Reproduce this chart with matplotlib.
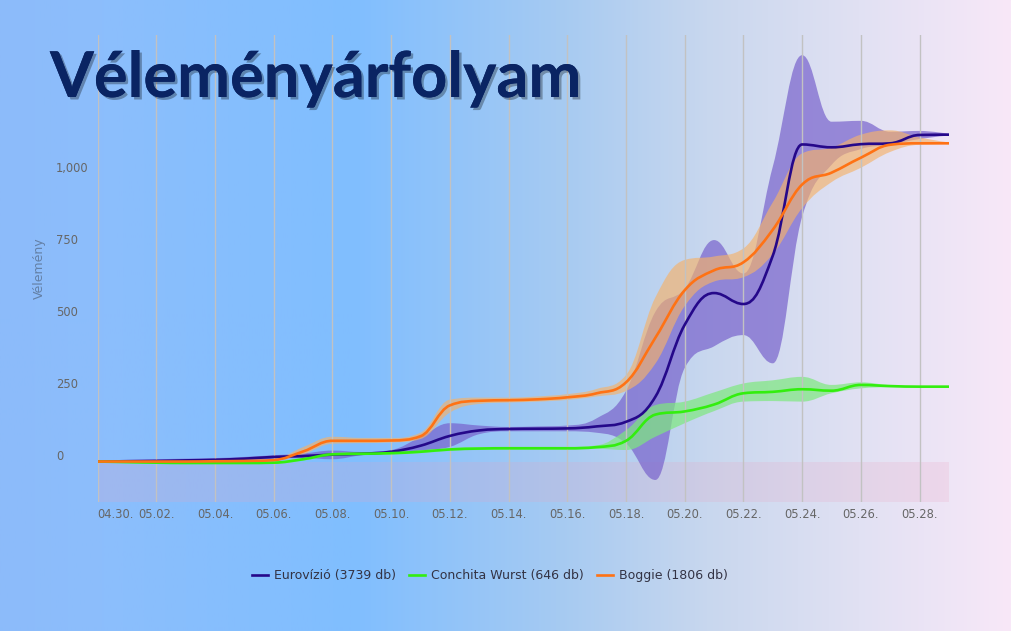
import numpy as np
import matplotlib
matplotlib.use('Agg')
import matplotlib.pyplot as plt
from matplotlib.path import Path
from matplotlib.patches import PathPatch
from matplotlib.lines import Line2D
from matplotlib.transforms import ScaledTranslation
import matplotlib.patheffects as pe

# dates 04.30. - 05.29.
dates = ['04.30.'] + ['05.%02d.' % d for d in range(1, 30)]

euro = [0, 1, 2, 4, 6, 10, 16, 19, 24, 27, 34, 55, 89, 108, 113,
        114, 115, 122, 138, 225, 475, 585, 547, 715, 1101, 1091, 1102, 1105, 1134, 1135]
euro_hi = [3, 6, 8, 10, 12, 16, 22, 28, 38, 33, 40, 85, 133, 125, 120,
           122, 125, 150, 245, 520, 600, 769, 653, 1024, 1411, 1180, 1183, 1145, 1148, 1138]
euro_lo = [-3, -4, -4, -2, 0, 4, 10, 12, 8, 22, 28, 38, 51, 95, 105,
           105, 105, 100, 63, -64, 325, 400, 439, 341, 850, 1030, 1085, 1100, 1120, 1132]

conchita = [0, -2, -4, -5, -5, -5, -4, 8, 25, 27, 29, 34, 42, 45, 46,
            46, 46, 50, 72, 163, 174, 198, 237, 242, 251, 246, 266, 262, 260, 260]
conchita_hi = [3, 2, 0, -1, -1, -1, 0, 13, 30, 32, 34, 39, 47, 50, 51,
               51, 51, 56, 109, 196, 208, 240, 271, 282, 294, 266, 275, 265, 262, 261]
conchita_lo = [-3, -6, -8, -9, -9, -9, -8, 3, 20, 22, 24, 29, 37, 40, 41,
               41, 41, 44, 40, 86, 133, 175, 208, 210, 208, 237, 254, 258, 258, 259]

boggie = [0, 0, 0, 0, 1, 2, 5, 35, 72, 72, 73, 88, 195, 211, 213,
          216, 223, 237, 275, 430, 595, 664, 692, 805, 962, 1003, 1055, 1100, 1105, 1105]
boggie_hi = [3, 3, 3, 3, 4, 5, 9, 50, 86, 82, 82, 100, 215, 222, 222,
             226, 234, 252, 300, 570, 700, 712, 740, 900, 1070, 1090, 1135, 1150, 1125, 1108]
boggie_lo = [-3, -3, -3, -3, -2, -1, 2, 25, 62, 64, 66, 78, 170, 200, 205,
             208, 214, 226, 245, 340, 540, 625, 640, 720, 880, 970, 1020, 1075, 1100, 1102]

labels = ['Eurovízió (3739 db)', 'Conchita Wurst (646 db)', 'Boggie (1806 db)']


def spline_path(x, y, smoothing=1.5):
    # highcharts-like spline: cubic bezier segments through every point
    n = len(x)
    lc = [(x[i], y[i]) for i in range(n)]
    rc = [(x[i], y[i]) for i in range(n)]
    for i in range(1, n - 1):
        px, py = x[i], y[i]
        lx, ly = x[i - 1], y[i - 1]
        nx, ny = x[i + 1], y[i + 1]
        d = smoothing + 1
        lcx, lcy = (smoothing * px + lx) / d, (smoothing * py + ly) / d
        rcx, rcy = (smoothing * px + nx) / d, (smoothing * py + ny) / d
        corr = ((rcy - lcy) * (rcx - px)) / (rcx - lcx) + py - rcy
        lcy += corr
        rcy += corr
        if lcy > ly and lcy > py:
            lcy = max(ly, py)
            rcy = 2 * py - lcy
        elif lcy < ly and lcy < py:
            lcy = min(ly, py)
            rcy = 2 * py - lcy
        if rcy > ny and rcy > py:
            rcy = max(ny, py)
            lcy = 2 * py - rcy
        elif rcy < ny and rcy < py:
            rcy = min(ny, py)
            lcy = 2 * py - rcy
        lc[i] = (lcx, lcy)
        rc[i] = (rcx, rcy)
    verts = [(x[0], y[0])]
    codes = [Path.MOVETO]
    for i in range(1, n):
        verts += [rc[i - 1], lc[i], (x[i], y[i])]
        codes += [Path.CURVE4] * 3
    return verts, codes


def band_path(x, hi, lo):
    uv, uc = spline_path(x, hi)
    lv, _ = spline_path(x, lo)
    verts = uv + lv[::-1] + [uv[0]]
    codes = uc + [Path.LINETO] + [Path.CURVE4] * (len(lv) - 1) + [Path.CLOSEPOLY]
    return Path(verts, codes)


fig = plt.figure(figsize=(10.11, 6.31), dpi=100)

# background gradient
bg = fig.add_axes([0, 0, 1, 1], zorder=-10)
stops = [0, 0.1, 0.35, 0.55, 0.7, 0.85, 1.0]
cols = np.array([(140, 187, 250), (140, 190, 252), (128, 190, 255), (165, 202, 242),
                 (200, 215, 238), (225, 225, 243), (248, 232, 248)]) / 255
xx = np.linspace(0, 1, 512)
grad = np.stack([np.interp(xx, stops, cols[:, k]) for k in range(3)], axis=-1)[None, :, :]
bg.imshow(grad, aspect='auto', extent=[0, 1, 0, 1])
bg.axis('off')

ax = fig.add_axes([0.0966, 0.2044, 0.8420, 0.7401])
ax.patch.set_alpha(0)
x = list(range(len(dates)))

ax.axhspan(-1000, 0, color=(0.92, 0.63, 0.75), alpha=0.2, lw=0, zorder=0)

series = [
    (euro, euro_hi, euro_lo, '#25088a', '#7862cc', 0.7),
    (conchita, conchita_hi, conchita_lo, '#33ee0e', '#7ee87e', 0.7),
    (boggie, boggie_hi, boggie_lo, '#ff7214', '#f5b26a', 0.65),
]
for y, hi, lo, lc_, fc, a in series:
    ax.add_patch(PathPatch(band_path(x, hi, lo), facecolor=fc, alpha=a, lw=0, zorder=1))
for y, hi, lo, lc_, fc, a in series:
    v, c = spline_path(x, y)
    ax.add_patch(PathPatch(Path(v, c), facecolor='none', edgecolor=lc_, lw=1.9,
                           zorder=3, capstyle='round', joinstyle='round'))

ax.set_xlim(0, 29)
ax.set_ylim(-140.6, 1481)
for s in ax.spines.values():
    s.set_visible(False)

ax.set_xticks(x[:29:2])
ax.set_xticklabels(dates[:29:2], fontsize=8.3, color='#666666')
ax.get_xticklabels()[0].set_ha('left')
ax.tick_params(axis='x', length=0, pad=4.5)
ax.grid(axis='x', color='#c2c2c2', lw=1)
ax.grid(axis='y', visible=False)

ax.set_yticks([0, 250, 500, 750, 1000])
ax.set_yticklabels(['0', '250', '500', '750', '1,000'], fontsize=8.3, color='#666666')
ax.tick_params(axis='y', length=0, pad=30)
off = ScaledTranslation(0, 0.065, fig.dpi_scale_trans)
for t in ax.get_yticklabels():
    t.set_ha('left')
    t.set_transform(t.get_transform() + off)

fig.text(39 / 1011, 1 - 268 / 631, 'Vélemény', rotation=90, ha='center', va='center',
         fontsize=9, color='#6480a6')

fig.text(50 / 1011, 1 - 97 / 631, 'Véleményárfolyam', fontsize=45.5, fontweight='bold',
         family='Lato', color='#0a2463', va='baseline',
         path_effects=[pe.withSimplePatchShadow(offset=(1.8, -1.8), shadow_rgbFace='black', alpha=0.3),
                       pe.Normal()])

handles = [Line2D([], [], color=s[3], lw=1.9) for s in series]
fig.legend(handles, labels, loc='center', bbox_to_anchor=(490 / 1011, 1 - 576 / 631), ncol=3,
           frameon=False, fontsize=9.0, labelcolor='#333344', handlelength=1.3,
           handletextpad=0.5, columnspacing=1.0)

fig.savefig('out.png', dpi=100)
